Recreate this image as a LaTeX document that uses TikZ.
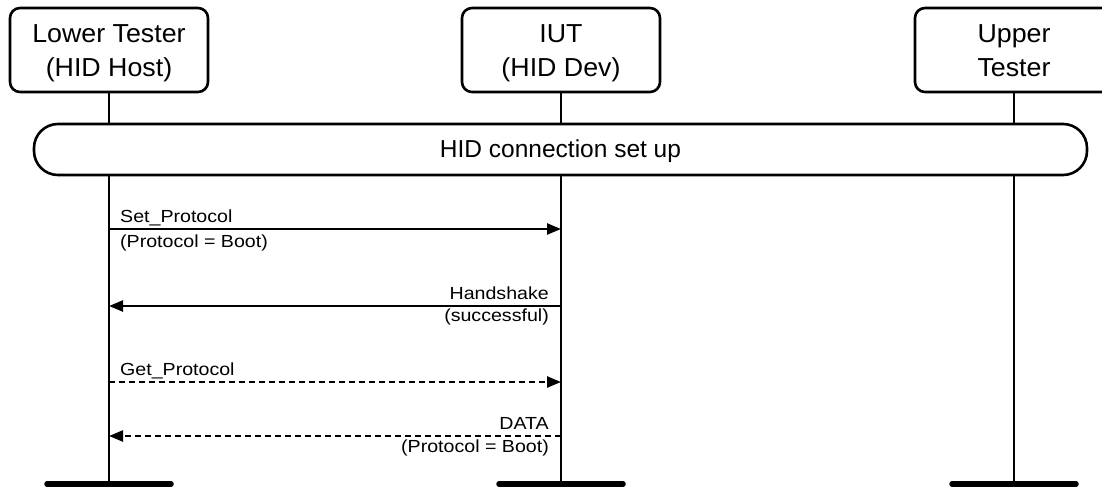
\documentclass[tikz,border=0pt]{standalone}
\usepackage{fontspec}
\setmainfont{Liberation Sans}
\newfontfamily\msgfont[FakeStretch=1.12]{Liberation Sans}
\newfontfamily\hdrfont[FakeStretch=1.03]{Liberation Sans}
\usetikzlibrary{arrows.meta,calc}
\begin{document}
\begin{tikzpicture}[x=1pt,y=-1pt,
  hdrbox/.style={draw,line width=2.6pt,rounded corners=10pt,minimum width=198pt,minimum height=84pt,inner sep=0pt,fill=white},
  hdrtxt/.style={inner sep=0pt,anchor=base,font=\hdrfont\fontsize{26}{30}\selectfont},
  bandbox/.style={draw,line width=2.6pt,rounded corners=24pt,minimum width=1053pt,minimum height=51pt,inner sep=0pt,fill=white},
  bandtxt/.style={inner sep=0pt,anchor=base,font=\fontsize{24.5}{28}\selectfont},
  life/.style={line width=2.6pt},
  endbar/.style={line width=5.5pt,line cap=round},
  msgsolid/.style={line width=2.4pt,-{Triangle[length=14pt,width=11pt]}},
  msgdash/.style={msgsolid,dash pattern=on 6pt off 4pt},
  msgtxt/.style={inner sep=0pt,font=\msgfont\fontsize{17.5}{20}\selectfont}]
\useasboundingbox (0,0) rectangle (1102,487);
\clip (0,0) rectangle (1102,487);
\fill[white] (0,0) rectangle (1102,487);
% header boxes
\node[hdrbox] (lt) at (109,50) {};
\node[hdrbox] (iut) at (561,50) {};
\node[hdrbox] (ut) at (1014,50) {};
\node[hdrtxt] (lt1) at (109,43) {Lower Tester};
\node[hdrtxt] (lt2) at (109,76) {(HID Host)};
\node[hdrtxt] (iut1) at (561,43) {IUT};
\node[hdrtxt] (iut2) at (561,76) {(HID Dev)};
\node[hdrtxt] (ut1) at (1014,43) {Upper};
\node[hdrtxt] (ut2) at (1014,76) {Tester};
% lifeline ends
\coordinate (ltend) at (109,484);
\coordinate (iutend) at (561,484);
\coordinate (utend) at (1014,484);
\draw[life] (lt.south) -- (ltend);
\draw[life] (iut.south) -- (iutend);
\draw[life] (ut.south) -- (utend);
\draw[endbar] ($(ltend)+(-62,0)$) -- ($(ltend)+(62,0)$);
\draw[endbar] ($(iutend)+(-62,0)$) -- ($(iutend)+(62,0)$);
\draw[endbar] ($(utend)+(-62,0)$) -- ($(utend)+(62,0)$);
% band
\node[bandbox] (hid) at (560.5,149.5) {};
\node[bandtxt] (hidtxt) at (560.5,157) {HID connection set up};
% message points
\coordinate (m1l) at (109,229); \coordinate (m1r) at (561,229);
\coordinate (m2l) at (109,306); \coordinate (m2r) at (561,306);
\coordinate (m3l) at (109,382); \coordinate (m3r) at (561,382);
\coordinate (m4l) at (109,436); \coordinate (m4r) at (561,436);
\draw[msgsolid] (m1l) -- (m1r);
\draw[msgsolid] (m2r) -- (m2l);
\draw[msgdash] (m3l) -- (m3r);
\draw[msgdash] (m4r) -- (m4l);
\node[msgtxt,anchor=base west] (t1a) at ($(m1l)+(11,-7)$) {Set\_Protocol};
\node[msgtxt,anchor=base west] (t1b) at ($(m1l)+(11,18)$) {(Protocol = Boot)};
\node[msgtxt,anchor=base east] (t2a) at ($(m2r)+(-12,-7)$) {Handshake};
\node[msgtxt,anchor=base east] (t2b) at ($(m2r)+(-12,15)$) {(successful)};
\node[msgtxt,anchor=base west] (t3a) at ($(m3l)+(11,-7)$) {Get\_Protocol};
\node[msgtxt,anchor=base east] (t4a) at ($(m4r)+(-12,-7)$) {DATA};
\node[msgtxt,anchor=base east] (t4b) at ($(m4r)+(-12,16)$) {(Protocol = Boot)};
\end{tikzpicture}
\end{document}
